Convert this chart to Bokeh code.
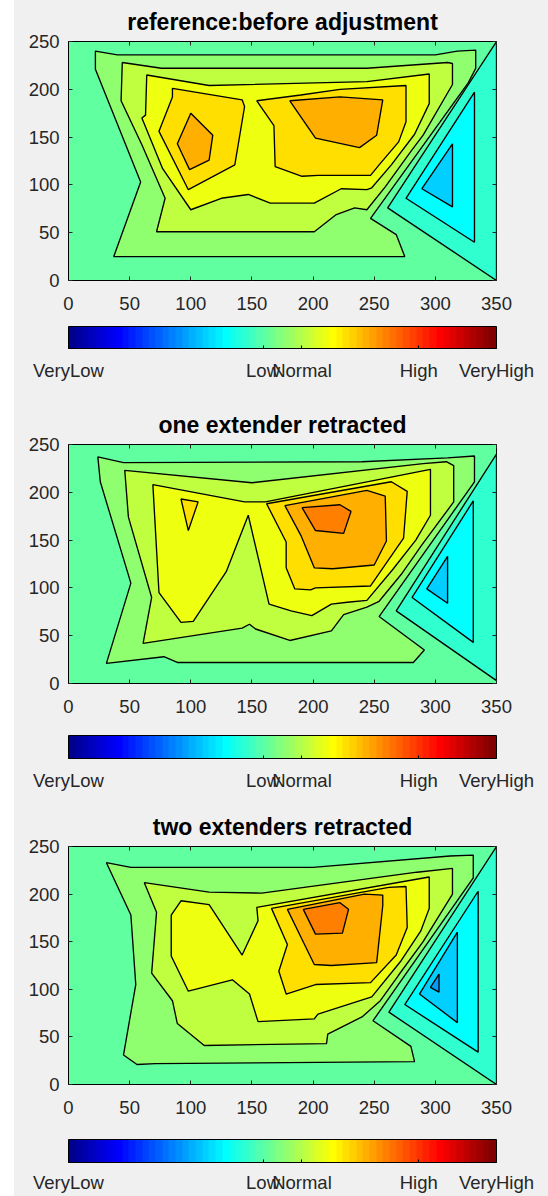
import numpy as np
from bokeh.plotting import figure
from bokeh.models import (ColumnDataSource, LinearColorMapper, ColorBar, FixedTicker,
                          Range1d, AllLabels, Spacer, LinearAxis)
from bokeh.layouts import column, row
from bokeh.embed import file_html
from bokeh.resources import INLINE

# ---------------- data ----------------
TITLES = ["reference:before adjustment", "one extender retracted", "two extenders retracted"]
X_TICKS = [0, 50, 100, 150, 200, 250, 300, 350]
Y_TICKS = [0, 50, 100, 150, 200, 250]
CBAR_TICKS = [0, 5, 6, 9, 11]
CBAR_LABELS = ["VeryLow", "Low", "Normal", "High", "VeryHigh"]
CBAR_LOW, CBAR_HIGH = 0, 11

BASE_LEVEL = 5.07                                   # value of the outer (edge) region
LEVELS_UP = [5.59, 6.10, 6.62, 7.13, 7.65, 8.16]    # contour levels above the edge value
LEVELS_DOWN = [4.55, 4.04, 3.52, 3.00]              # contour levels below the edge value

# panel 1: reference: before adjustment  (contour polygons, x in 0..350, y in 0..250)
p1_up1 = [(22, 240), (40, 236), (300, 236), (318, 240), (333, 241), (333, 222), (327, 207), (247, 65),
          (268, 48), (275, 25), (37, 25), (59, 103), (22, 221)]
p1_up2 = [(44, 228), (76, 222), (244, 222), (310, 228), (314, 227), (314, 205), (290, 152), (280, 135),
          (259, 98), (244, 74), (234, 76), (219, 69), (201, 51), (72, 51), (79, 86), (60, 142), (43, 188)]
p1_up3 = [(64, 215), (115, 204), (244, 208), (295, 216), (295, 185), (283, 153), (264, 121), (248, 97),
          (244, 95), (223, 96), (201, 81), (165, 81), (147, 90), (125, 86), (100, 74), (77, 117),
          (60, 170), (63, 173)]
p1_up4a = [(85, 201), (142, 189), (144, 182), (136, 121), (98, 95), (74, 156), (85, 192)]
p1_up4b = [(154, 188), (190, 194), (222, 200), (276, 204), (276, 166), (270, 145), (254, 121),
           (247, 110), (204, 110), (191, 109), (169, 119), (168, 162)]
p1_up5a = [(100, 175), (118, 152), (115, 126), (99, 116), (89, 143)]
p1_up5b = [(181, 188), (222, 192), (257, 189), (252, 152), (238, 139), (202, 149)]
p1_dn1 = [(350, 250), (261, 76), (350, 0)]
p1_dn2 = [(276, 86), (332, 197), (332, 40)]
p1_dn3 = [(289, 96), (314, 143), (314, 77)]

# panel 2: one extender retracted
p2_up1 = [(24, 237), (45, 231), (240, 232), (310, 236), (332, 238), (332, 211), (254, 70), (291, 35),
          (282, 22), (89, 22), (78, 28), (31, 21), (51, 105), (26, 211)]
p2_up2 = [(46, 223), (150, 210), (290, 230), (309, 232), (315, 228), (315, 190), (289, 145), (272, 114),
          (254, 86), (244, 80), (225, 72), (215, 55), (181, 45), (153, 57), (148, 62), (142, 58),
          (61, 42), (68, 90), (49, 174)]
p2_up3 = [(69, 208), (144, 190), (161, 190), (296, 224), (296, 176), (284, 150), (265, 119), (244, 87),
          (228, 85), (215, 83), (199, 71), (182, 76), (164, 83), (147, 176), (129, 117), (102, 65),
          (92, 64), (74, 95)]
p2_up4a = [(92, 193), (106, 190), (98, 160)]
p2_up4b = [(162, 188), (264, 211), (277, 201), (274, 152), (247, 102), (202, 100), (198, 98),
           (185, 99), (178, 121), (178, 148)]
p2_up5 = [(177, 186), (244, 202), (259, 196), (260, 149), (250, 124), (216, 120), (201, 121), (190, 155)]
p2_up6 = [(191, 184), (222, 187), (231, 180), (225, 157), (202, 160)]
p2_dn1 = [(350, 240), (268, 76), (350, 3)]
p2_dn2 = [(281, 90), (331, 191), (331, 43)]
p2_dn3 = [(293, 99), (310, 133), (310, 84)]

# panel 3: two extenders retracted
p3_up1 = [(31, 233), (51, 228), (200, 228), (312, 240), (331, 241), (331, 217), (249, 67), (280, 40),
          (283, 24), (71, 22), (56, 21), (45, 31), (55, 105), (51, 178)]
p3_up2 = [(62, 212), (115, 202), (158, 201), (285, 223), (314, 227), (314, 200), (290, 150), (270, 115),
          (255, 88), (240, 71), (212, 53), (211, 43), (111, 41), (89, 64), (85, 88), (68, 117), (72, 181)]
p3_up3 = [(92, 193), (115, 189), (142, 136), (155, 172), (154, 186), (295, 218), (295, 185), (288, 161),
          (272, 130), (248, 92), (204, 74), (201, 69), (155, 66), (148, 95), (134, 110), (98, 98),
          (84, 135), (84, 178)]
p3_up4 = [(166, 185), (262, 207), (276, 208), (277, 165), (268, 136), (247, 107), (202, 105), (178, 95),
          (172, 119), (179, 147)]
p3_up5 = [(179, 184), (242, 200), (257, 199), (257, 188), (252, 128), (215, 125), (201, 126), (190, 155)]
p3_up6 = [(192, 184), (222, 191), (229, 184), (224, 159), (202, 158)]
p3_dn1 = [(350, 250), (262, 76), (350, 0)]
p3_dn2 = [(275, 84), (335, 203), (335, 34)]
p3_dn3 = [(287, 95), (318, 160), (318, 65)]
p3_dn4 = [(296, 102), (303, 116), (303, 97)]

PANELS = [
    ([[p1_up1], [p1_up2], [p1_up3], [p1_up4a, p1_up4b], [p1_up5a, p1_up5b]],
     [[p1_dn1], [p1_dn2], [p1_dn3]]),
    ([[p2_up1], [p2_up2], [p2_up3], [p2_up4a, p2_up4b], [p2_up5], [p2_up6]],
     [[p2_dn1], [p2_dn2], [p2_dn3]]),
    ([[p3_up1], [p3_up2], [p3_up3], [p3_up4], [p3_up5], [p3_up6]],
     [[p3_dn1], [p3_dn2], [p3_dn3], [p3_dn4]]),
]


# ---------------- colour map (MATLAB jet, 64 entries) ----------------
def jet_palette(m=64):
    n = int(np.ceil(m / 4))
    u = np.concatenate([np.arange(1, n + 1) / n, np.ones(n - 1), np.arange(n, 0, -1) / n])
    g = int(np.ceil(n / 2)) - (1 if m % 4 == 1 else 0) + np.arange(1, len(u) + 1)
    r = g + n
    b = g - n
    J = np.zeros((m, 3))
    for k in range(len(u)):
        if r[k] <= m:
            J[r[k] - 1, 0] = u[k]
        if 1 <= g[k] <= m:
            J[g[k] - 1, 1] = u[k]
        if b[k] >= 1:
            J[b[k] - 1, 2] = u[k]
    return ["#%02x%02x%02x" % tuple(int(round(c * 255)) for c in rowc) for rowc in J]


JET = jet_palette(64)
FONT = "Liberation Sans"
FIG_BG = "#f0f0f0"
TXT = "#262626"

# per-panel layout: (figure height, top border, colour-bar spacer font size, bar height, label standoff)
LAYOUT = [(403, 40, "9.5px", 22, 11), (402, 40, "15.5px", 23, 11), (391, 39, "18px", 23, 9)]


def box_axis(ticks):
    """Tick marks only (MATLAB 'box on' style) for the top and right edges; labels not drawn."""
    return LinearAxis(ticker=FixedTicker(ticks=ticks), major_label_text_font_size="0px",
                      major_label_text_color=None, major_label_standoff=0,
                      major_tick_in=4, major_tick_out=0,
                      major_tick_line_color=TXT, minor_tick_line_color=None, axis_line_color=None)


def make_panel(idx):
    height, top, spacer, bar_h, lab_so = LAYOUT[idx]
    ups, downs = PANELS[idx]
    mapper = LinearColorMapper(palette=JET, low=CBAR_LOW, high=CBAR_HIGH)
    p = figure(width=534, height=height, x_range=Range1d(0, 350), y_range=Range1d(0, 250),
               output_backend="svg", toolbar_location=None,
               min_border_left=54, min_border_right=52, min_border_top=top,
               min_border_bottom=height - top - 240)
    p.border_fill_color = FIG_BG
    p.background_fill_color = JET[int(BASE_LEVEL / (CBAR_HIGH - CBAR_LOW) * len(JET))]
    p.outline_line_color = "black"
    p.outline_line_width = 1
    p.xgrid.visible = False
    p.ygrid.visible = False

    xs, ys, lv = [], [], []
    for level, polys in zip(LEVELS_UP, ups):
        for poly in polys:
            xs.append([pt[0] for pt in poly])
            ys.append([pt[1] for pt in poly])
            lv.append(level)
    for level, polys in zip(LEVELS_DOWN, downs):
        for poly in polys:
            xs.append([pt[0] for pt in poly])
            ys.append([pt[1] for pt in poly])
            lv.append(level)
    src = ColumnDataSource(dict(xs=xs, ys=ys, level=lv))
    p.patches("xs", "ys", source=src, fill_color={"field": "level", "transform": mapper},
              fill_alpha=1.0, line_color="black", line_width=1.35)

    p.title.text = TITLES[idx]
    p.title.align = "center"
    p.title.text_font = FONT
    p.title.text_font_size = "23px"
    p.title.text_font_style = "bold"
    p.title.text_color = "black"
    p.title.standoff = 13

    p.xaxis.ticker = FixedTicker(ticks=X_TICKS)
    p.yaxis.ticker = FixedTicker(ticks=Y_TICKS)
    for ax in (p.xaxis[0], p.yaxis[0]):
        ax.major_label_text_font = FONT
        ax.major_label_text_font_size = "18.5px"
        ax.major_label_text_color = TXT
        ax.major_tick_in = 4
        ax.major_tick_out = 0
        ax.major_tick_line_color = TXT
        ax.minor_tick_line_color = None
        ax.axis_line_color = "black"
    p.yaxis.major_label_standoff = 9
    p.xaxis.major_label_standoff = 16
    p.xaxis.axis_label = " "
    p.xaxis.axis_label_standoff = 0
    p.xaxis.axis_label_text_font_size = spacer

    p.add_layout(box_axis(X_TICKS), "above")
    p.add_layout(box_axis(Y_TICKS), "right")

    cb = ColorBar(color_mapper=mapper, orientation="horizontal", height=bar_h, padding=0,
                  ticker=FixedTicker(ticks=CBAR_TICKS),
                  major_label_overrides=dict(zip(CBAR_TICKS, CBAR_LABELS)),
                  major_label_policy=AllLabels(),
                  major_label_text_font=FONT, major_label_text_font_size="18.5px",
                  major_label_text_color=TXT, label_standoff=lab_so,
                  major_tick_in=3, major_tick_out=0, major_tick_line_color="black",
                  minor_tick_line_color=None, bar_line_color="black", bar_line_width=1,
                  border_line_color=None, background_fill_color=FIG_BG, background_fill_alpha=0)
    p.add_layout(cb, "below")
    return p


figs = [make_panel(i) for i in range(3)]
layout = row(Spacer(width=14, height=1196),
             column(*figs, spacing=0, styles={"background-color": FIG_BG}),
             spacing=0)
open("out.html", "w").write(file_html(layout, INLINE))
